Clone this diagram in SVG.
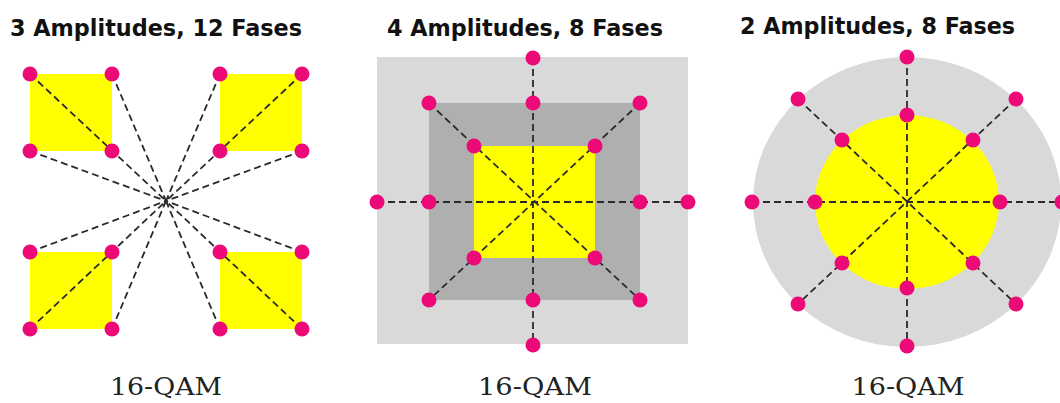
<svg xmlns="http://www.w3.org/2000/svg" width="1060" height="403" viewBox="0 0 1060 403">
<style>
.title{font-family:"DejaVu Sans","Liberation Sans",sans-serif;font-weight:bold;font-size:23px;fill:#111}
.cap{font-family:"DejaVu Serif","Liberation Serif",serif;font-size:25px;fill:#222;text-anchor:middle}
.dash{stroke:#2a2a2a;stroke-width:1.8;stroke-dasharray:7 4;fill:none}
.dot{fill:#EC0A78}
.yel{fill:#FFFF00}
.lg{fill:#D9D9D9}
.dg{fill:#AFAFAF}
</style>
<rect width="1060" height="403" fill="#fff"/>

<!-- Panel 1 -->
<g id="panel1">
  <text class="title" x="10" y="36" textLength="292" lengthAdjust="spacingAndGlyphs">3 Amplitudes, 12 Fases</text>
  <rect class="yel" x="30" y="74" width="82" height="77"/>
  <rect class="yel" x="220" y="74" width="82" height="77"/>
  <rect class="yel" x="30" y="252" width="82" height="77"/>
  <rect class="yel" x="220" y="252" width="82" height="77"/>
  <text class="cap" x="166" y="395" textLength="112" lengthAdjust="spacingAndGlyphs">16-QAM</text>
</g>
<!-- Panel 2 -->
<g id="panel2">
  <text class="title" x="387" y="36" textLength="276" lengthAdjust="spacingAndGlyphs">4 Amplitudes, 8 Fases</text>
  <rect class="lg" x="377" y="57" width="311" height="287"/>
  <rect class="dg" x="429" y="103" width="211" height="197"/>
  <rect class="yel" x="474" y="146" width="121" height="112"/>
  <text class="cap" x="535" y="395" textLength="114" lengthAdjust="spacingAndGlyphs">16-QAM</text>
</g>
<!-- Panel 3 -->
<g id="panel3">
  <text class="title" x="740" y="34" textLength="275" lengthAdjust="spacingAndGlyphs">2 Amplitudes, 8 Fases</text>
  <ellipse class="lg" cx="907" cy="202" rx="154" ry="145"/>
  <ellipse class="yel" cx="907" cy="202" rx="92" ry="87"/>
  <text class="cap" x="908" y="395" textLength="113" lengthAdjust="spacingAndGlyphs">16-QAM</text>
</g>

<g id="connectors">
  <!-- panel 1 -->
  <path class="dash" d="M30 74L166 201M112 74L166 201M30 151L166 201M302 74L166 201M220 74L166 201M302 151L166 201M30 329L166 201M112 329L166 201M30 252L166 201M302 329L166 201M220 329L166 201M302 252L166 201"/>
  <!-- panel 2 -->
  <path class="dash" d="M533 58V345M377 202H688M429 103L640 300M640 103L429 300"/>
  <!-- panel 3 -->
  <path class="dash" d="M907 57V346M752 202H1062M798 99L1016 304M1016 99L798 304"/>
</g>

<g id="dots1">
  <circle class="dot" cx="30" cy="74" r="7.5"/><circle class="dot" cx="112" cy="74" r="7.5"/>
  <circle class="dot" cx="220" cy="74" r="7.5"/><circle class="dot" cx="302" cy="74" r="7.5"/>
  <circle class="dot" cx="30" cy="151" r="7.5"/><circle class="dot" cx="112" cy="151" r="7.5"/>
  <circle class="dot" cx="220" cy="151" r="7.5"/><circle class="dot" cx="302" cy="151" r="7.5"/>
  <circle class="dot" cx="30" cy="252" r="7.5"/><circle class="dot" cx="112" cy="252" r="7.5"/>
  <circle class="dot" cx="220" cy="252" r="7.5"/><circle class="dot" cx="302" cy="252" r="7.5"/>
  <circle class="dot" cx="30" cy="329" r="7.5"/><circle class="dot" cx="112" cy="329" r="7.5"/>
  <circle class="dot" cx="220" cy="329" r="7.5"/><circle class="dot" cx="302" cy="329" r="7.5"/>
</g>
<g id="dots2">
  <circle class="dot" cx="533" cy="58" r="7.5"/><circle class="dot" cx="533" cy="103" r="7.5"/>
  <circle class="dot" cx="429" cy="103" r="7.5"/><circle class="dot" cx="640" cy="103" r="7.5"/>
  <circle class="dot" cx="474" cy="146" r="7.5"/><circle class="dot" cx="595" cy="146" r="7.5"/>
  <circle class="dot" cx="377" cy="202" r="7.5"/><circle class="dot" cx="429" cy="202" r="7.5"/>
  <circle class="dot" cx="640" cy="202" r="7.5"/><circle class="dot" cx="688" cy="202" r="7.5"/>
  <circle class="dot" cx="474" cy="258" r="7.5"/><circle class="dot" cx="595" cy="258" r="7.5"/>
  <circle class="dot" cx="429" cy="300" r="7.5"/><circle class="dot" cx="533" cy="300" r="7.5"/>
  <circle class="dot" cx="640" cy="300" r="7.5"/><circle class="dot" cx="533" cy="345" r="7.5"/>
</g>
<g id="dots3">
  <circle class="dot" cx="907" cy="57" r="7.5"/><circle class="dot" cx="907" cy="115" r="7.5"/>
  <circle class="dot" cx="798" cy="99" r="7.5"/><circle class="dot" cx="1016" cy="99" r="7.5"/>
  <circle class="dot" cx="842" cy="140" r="7.5"/><circle class="dot" cx="973" cy="140" r="7.5"/>
  <circle class="dot" cx="752" cy="202" r="7.5"/><circle class="dot" cx="815" cy="202" r="7.5"/>
  <circle class="dot" cx="1000" cy="202" r="7.5"/><circle class="dot" cx="1062" cy="202" r="7.5"/>
  <circle class="dot" cx="842" cy="263" r="7.5"/><circle class="dot" cx="973" cy="263" r="7.5"/>
  <circle class="dot" cx="798" cy="304" r="7.5"/><circle class="dot" cx="907" cy="288" r="7.5"/>
  <circle class="dot" cx="1016" cy="304" r="7.5"/><circle class="dot" cx="907" cy="346" r="7.5"/>
</g>
</svg>
